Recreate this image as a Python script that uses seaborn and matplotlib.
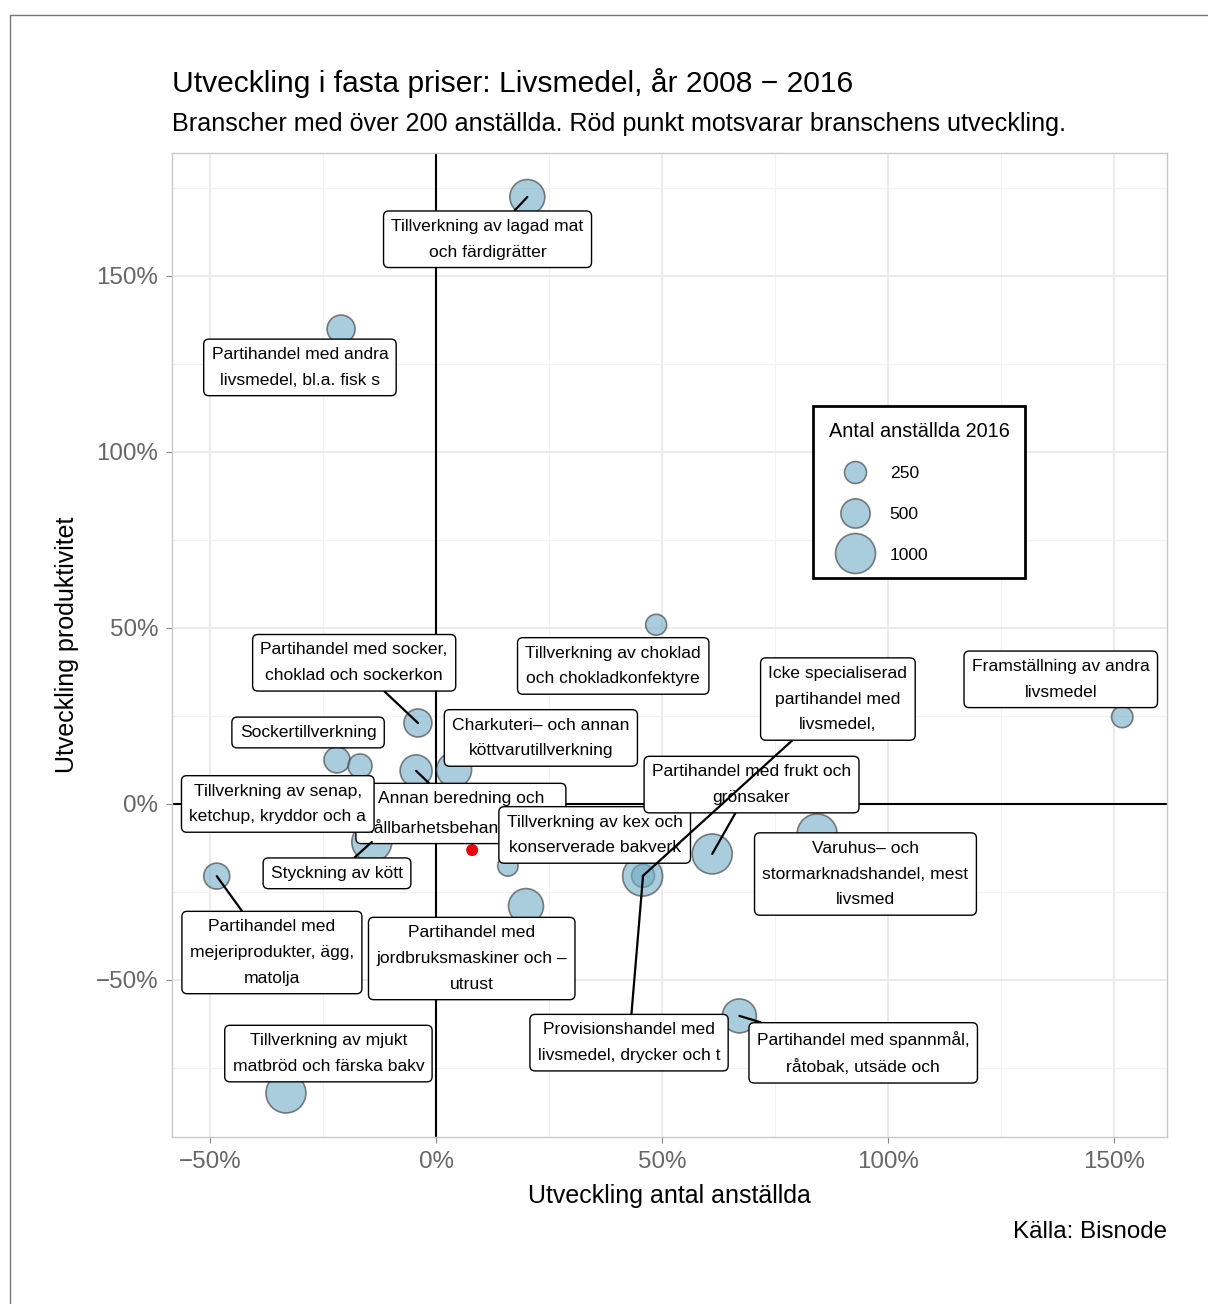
import numpy as np
import pandas as pd
import seaborn as sns
import matplotlib.pyplot as plt
from matplotlib.lines import Line2D
from matplotlib.ticker import FuncFormatter, MultipleLocator

# Branscher (etiketter som i originalet, avkortade till 45 tecken)
bransch = [
    "Tillverkning av lagad mat\noch färdigrätter",
    "Partihandel med andra\nlivsmedel, bl.a. fisk s",
    "Tillverkning av choklad\noch chokladkonfektyre",
    "Framställning av andra\nlivsmedel",
    "Sockertillverkning",
    "Partihandel med socker,\nchoklad och sockerkon",
    "Charkuteri\u2013 och annan\nköttvarutillverkning",
    "Annan beredning och\nhållbarhetsbehandling av",
    "Tillverkning av senap,\nketchup, kryddor och a",
    "Styckning av kött",
    "Partihandel med\nmejeriprodukter, ägg,\nmatolja",
    "Partihandel med\njordbruksmaskiner och \u2013\nutrust",
    "Tillverkning av mjukt\nmatbröd och färska bakv",
    "Varuhus\u2013 och\nstormarknadshandel, mest\nlivsmed",
    "Partihandel med spannmål,\nråtobak, utsäde och",
    "Tillverkning av kex och\nkonserverade bakverk",
    "Partihandel med frukt och\ngrönsaker",
    "Provisionshandel med\nlivsmedel, drycker och t",
    "Icke specialiserad\npartihandel med\nlivsmedel,",
]
# Utveckling antal anställda 2008-2016 (%)
utv_anstallda = [20.2, -21.0, 48.7, 151.8, -21.9, -4.0, 4.0, -4.4, -16.8, -14.2,
                 -48.5, 19.9, -33.2, 84.3, 67.1, 15.9, 61.1, 45.8, 45.7]
# Utveckling produktivitet 2008-2016 (%)
utv_produktivitet = [172.4, 134.9, 50.9, 24.7, 12.5, 23.0, 9.7, 9.4, 10.8, -10.8,
                     -20.5, -29.0, -82.1, -8.5, -60.2, -17.6, -14.2, -20.4, -20.5]
# Antal anställda 2016
anstallda_2016 = [748, 452, 221, 232, 379, 452, 748, 613, 312, 1110,
                  379, 748, 2185, 1000, 702, 205, 1054, 280, 2941]

# Hela branschen (röd punkt)
total_anstallda = [8.0]
total_produktivitet = [-13.1]

legend_breaks = [250, 500, 1000]

# etikettplacering (som ggrepel hamnade)
label_x = [11.4, -30.1, 39.2, 138.2, -28.3, -18.1, 23.2, 5.5, -35.0, -21.9,
           -36.3, 7.9, -23.8, 95.0, 94.5, 35.1, 69.8, 42.7, 88.9]
label_y = [160.4, 124.0, 39.2, 35.4, 20.3, 40.1, 18.75, -2.7, 0.0, -19.7,
           -42.2, -43.9, -70.9, -19.9, -70.7, -8.8, 5.5, -67.8, 29.8]
show_segment = [True, False, False, False, False, True, False, True, False, True,
                True, False, False, False, True, False, True, True, True]

df = pd.DataFrame({
    "bransch": bransch,
    "anstallda": utv_anstallda,
    "produktivitet": utv_produktivitet,
    "antal": anstallda_2016,
})

sns.set_style("whitegrid")
plt.rcParams["font.family"] = ["Liberation Sans", "DejaVu Sans"]
plt.rcParams["text.color"] = "black"
plt.rcParams["axes.labelcolor"] = "black"

fig = plt.figure(figsize=(12.08, 13.04), dpi=100)
ax = fig.add_axes([172 / 1208, 1 - 1137 / 1304, 995 / 1208, 984 / 1304])

fill = "#71ADC5"
edge = "#333333"
size_range = (58.06, 829.4)   # punkter^2 för 0 resp. 1000 anställda
size_norm = (0, 1000)

ax.axhline(0, color="black", lw=1.5, zorder=1.5)
ax.axvline(0, color="black", lw=1.5, zorder=1.5)

sns.scatterplot(data=df, x="anstallda", y="produktivitet", size="antal",
                sizes=size_range, size_norm=size_norm, color=fill, alpha=0.6,
                edgecolor=edge, linewidth=1.2, legend=False, ax=ax, zorder=3)
sns.scatterplot(x=total_anstallda, y=total_produktivitet, color="#E8000B",
                s=75, edgecolor="none", legend=False, ax=ax, zorder=4)

for i, txt in enumerate(bransch):
    arrow = None
    if show_segment[i]:
        arrow = dict(arrowstyle="-", color="black", lw=1.6, shrinkA=0, shrinkB=0)
    ax.annotate(txt, xy=(utv_anstallda[i], utv_produktivitet[i]),
                xytext=(label_x[i], label_y[i]), textcoords="data",
                ha="center", va="center", fontsize=12.6, linespacing=1.9,
                bbox=dict(boxstyle="round,pad=0.45,rounding_size=0.3",
                          fc="white", ec="black", lw=1.0),
                arrowprops=arrow, zorder=10 + i, annotation_clip=False)

ax.set_xlim(-58.4, 161.7)
ax.set_ylim(-94.6, 184.9)
ax.xaxis.set_major_locator(MultipleLocator(50))
ax.yaxis.set_major_locator(MultipleLocator(50))
ax.xaxis.set_minor_locator(MultipleLocator(25))
ax.yaxis.set_minor_locator(MultipleLocator(25))
pct = FuncFormatter(lambda v, p: f"{v:.0f}%".replace("-", "\u2212"))
ax.xaxis.set_major_formatter(pct)
ax.yaxis.set_major_formatter(pct)
ax.grid(which="major", color="#EBEBEB", lw=1.4)
ax.grid(which="minor", color="#F2F2F2", lw=0.8)
ax.set_axisbelow(True)
ax.tick_params(which="major", length=4, width=0.8, color="#888888", pad=6,
               labelsize=17.4, labelcolor="#666666", bottom=True, left=True)
ax.tick_params(which="minor", length=0)
for sp in ax.spines.values():
    sp.set_color("#C8C8C8")
    sp.set_linewidth(1.0)

ax.set_xlabel("Utveckling antal anställda", fontsize=18, labelpad=8)
ax.set_ylabel("Utveckling produktivitet", fontsize=18, labelpad=12)

# storleksförklaring
lo, hi = size_range
handles = [Line2D([], [], marker="o", linestyle="",
                  markersize=np.sqrt(lo + b / 1000 * (hi - lo)),
                  markerfacecolor=(0.443, 0.678, 0.773, 0.6),
                  markeredgecolor=(0.2, 0.2, 0.2, 0.6), markeredgewidth=1.2)
           for b in legend_breaks]
leg = ax.legend(handles, [str(b) for b in legend_breaks], title="Antal anställda 2016",
                loc="upper left", bbox_to_anchor=(0.644, 0.743), borderaxespad=0,
                fontsize=12.6, title_fontsize=14.3, frameon=True, fancybox=False,
                framealpha=1, alignment="left",
                borderpad=0.9, handlelength=3.0, handletextpad=0.5, labelspacing=1.45)
leg.get_frame().set_edgecolor("black")
leg.get_frame().set_linewidth(2)
leg.set_zorder(40)

fig.text(172 / 1208, 1 - 92 / 1304, "Utveckling i fasta priser: Livsmedel, år 2008 \u2212 2016",
         fontsize=21.6, va="baseline", ha="left")
fig.text(172 / 1208, 1 - 131 / 1304,
         "Branscher med över 200 anställda. Röd punkt motsvarar branschens utveckling.",
         fontsize=18.1, va="baseline", ha="left")
fig.text(1167 / 1208, 1 - 1232 / 1304, "Källa: Bisnode", fontsize=17.4,
         va="center", ha="right")

# ram runt figuren
fig.add_artist(Line2D([10 / 1208, 10 / 1208], [0, 1 - 15 / 1304], color="#777777", lw=1))
fig.add_artist(Line2D([10 / 1208, 1], [1 - 15 / 1304, 1 - 15 / 1304], color="#777777", lw=1))

fig.savefig("out.png", dpi=100)
